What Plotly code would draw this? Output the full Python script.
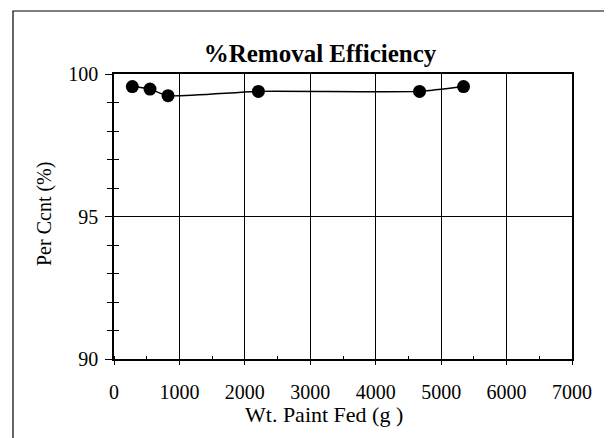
import plotly.graph_objects as go

# Data
wt_paint_fed = [280, 550, 826, 2207, 4670, 5342]
removal_pct = [99.56, 99.47, 99.24, 99.39, 99.39, 99.56]

x_ticks = [0, 1000, 2000, 3000, 4000, 5000, 6000, 7000]
y_ticks = [90, 95, 100]
y_minor = [91, 92, 93, 94, 96, 97, 98, 99]

title_text = "%Removal Efficiency"
x_title = "Wt. Paint Fed (g )"
y_title = "Per Ccnt (%)"

FONT = "Liberation Serif, Times New Roman, serif"

OFF = 8  # page body margin in the browser
W, H = 612 - OFF, 438 - OFF
L, T = 114 - OFF, 74 - OFF
pw, ph = 458, 285
R, B = W - L - pw, H - T - ph


def px(xs):  # screen x -> paper x
    return (xs - OFF - L) / pw


def py(ys):  # screen y -> paper y
    return (T + ph - (ys - OFF)) / ph


fig = go.Figure()
fig.add_trace(go.Scatter(
    x=wt_paint_fed, y=removal_pct, mode="lines+markers",
    line=dict(color="black", width=1.4, shape="spline", smoothing=0.5),
    marker=dict(color="black", size=13),
    showlegend=False, hoverinfo="x+y",
))
# helper trace so the overlaid axis (inner halves of the crossing ticks) is drawn
fig.add_trace(go.Scatter(x=[None], y=[None], yaxis="y2", showlegend=False, hoverinfo="skip"))

fig.update_layout(
    width=W, height=H,
    margin=dict(l=L, r=R, t=T, b=B),
    paper_bgcolor="white", plot_bgcolor="white",
    font=dict(family=FONT, color="black", size=20),
    xaxis=dict(
        range=[0, 7000], tickvals=x_ticks, ticktext=[str(v) for v in x_ticks],
        showgrid=True, gridcolor="black", gridwidth=1,
        showline=True, linecolor="black", linewidth=1.5, mirror=True,
        ticks="outside", ticklen=4, tickcolor="black",
        minor=dict(dtick=500, ticks="inside", ticklen=3, tickcolor="black", showgrid=False),
        ticklabelstandoff=10, zeroline=False,
        tickfont=dict(size=20, family=FONT),
    ),
    yaxis=dict(
        range=[90, 100], tickvals=y_ticks, ticktext=[str(v) for v in y_ticks],
        showgrid=True, gridcolor="black", gridwidth=1,
        showline=True, linecolor="black", linewidth=1.5, mirror=True,
        ticks="outside", ticklen=7, tickcolor="black",
        minor=dict(dtick=1, ticks="outside", ticklen=5, tickcolor="black", showgrid=False),
        ticklabelstandoff=3, zeroline=False,
        tickfont=dict(size=20, family=FONT),
    ),
    yaxis2=dict(
        range=[90, 100], overlaying="y", side="left", showgrid=False,
        showticklabels=False, showline=False, zeroline=False,
        tickvals=y_minor, ticks="inside", ticklen=5, tickcolor="black", tickwidth=1,
    ),
    title=dict(
        text="<b>" + title_text + "</b>", x=px(320), xref="paper", xanchor="center",
        y=1 - (53 - OFF) / H, yanchor="middle", font=dict(size=25, family=FONT),
    ),
    annotations=[
        dict(text=x_title, xref="paper", yref="paper", x=px(324), y=py(414),
             xanchor="center", yanchor="middle", showarrow=False,
             font=dict(size=22, family=FONT)),
        dict(text=y_title, xref="paper", yref="paper", x=px(44), y=py(214),
             xanchor="center", yanchor="middle", showarrow=False, textangle=-90,
             font=dict(size=20, family=FONT)),
    ],
    shapes=[
        dict(type="rect", xref="paper", yref="paper", x0=px(13), x1=px(606),
             y0=py(11), y1=py(445), line=dict(color="black", width=1.2)),
    ],
)

fig.write_html("out.html")
